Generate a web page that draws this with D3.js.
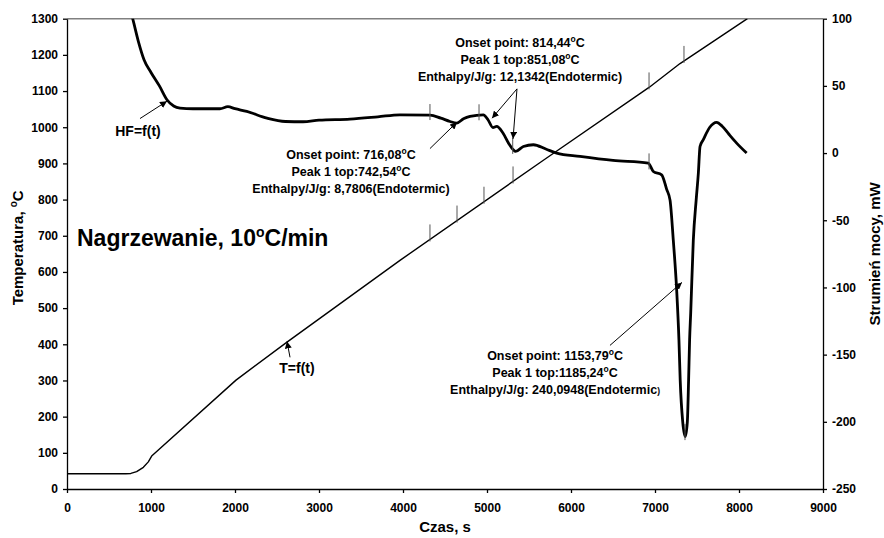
<!DOCTYPE html>
<html>
<head>
<meta charset="utf-8">
<script src="https://cdn.jsdelivr.net/npm/d3@7"></script>
<style>
	body { margin: 0; background: #fff; }
	svg { font-family: 'Liberation Sans', Arial, sans-serif; font-weight: bold; }
</style>
</head>
<body>
<svg id="canvas"></svg>
<script>
// temperature T=f(t)
const tempTime = [0, 700, 760, 829, 909, 968, 1008, 2012, 2619, 3964, 5667, 6929, 7298, 8100];
const tempValues = [42, 42, 43, 48, 60, 75, 91, 301, 406, 632, 908, 1110, 1176, 1300];

// heat flow HF=f(t), mW
const hfTime = [700, 782, 850, 917, 1000, 1100, 1190, 1270, 1345, 1500, 1821, 1915, 2000, 2140, 2381, 2600, 2810, 3000, 3369, 3700, 3964, 4321, 4450, 4560, 4639, 4720, 4798, 4956, 5012, 5071, 5115, 5190, 5260, 5313, 5340, 5433, 5552, 5700, 5829, 6107, 6500, 6920, 6980, 7079, 7139, 7179, 7218, 7258, 7285, 7300, 7330, 7360, 7385, 7400, 7412, 7425, 7456, 7490, 7516, 7536, 7575, 7650, 7734, 7800, 7880, 7972, 8091];
const hfValues = [118, 100, 83, 69.5, 60, 50, 39.7, 35, 33.5, 33, 33, 34.5, 33, 31, 26, 23.5, 23.3, 24.5, 25.3, 27, 28.5, 28.3, 26, 23.5, 22.3, 25.5, 27.3, 28.5, 24.8, 19, 19.8, 14.9, 7, 2.5, 1.2, 4.9, 6.2, 3, 0, -2.5, -5.5, -7.5, -13.7, -16.2, -27, -35, -65, -102, -139, -169, -200, -211, -200, -169, -139, -119, -65, -35, -15, 4.9, 10, 19, 22.8, 20, 14, 7.4, 0];

// small vertical marks left by the analysis software
const tempMarks = [4321, 4643, 4964, 5310, 6929, 7345];
const hfMarks = [4321, 4905, 5306, 6929, 7357];

const xTicks = [0, 1000, 2000, 3000, 4000, 5000, 6000, 7000, 8000, 9000];
const leftTicks = [0, 100, 200, 300, 400, 500, 600, 700, 800, 900, 1000, 1100, 1200, 1300];
const rightTicks = [-250, -200, -150, -100, -50, 0, 50, 100];

const xTitle = 'Czas, s';
const leftTitle = 'Temperatura, ';
const rightTitle = 'Strumień mocy, mW';

// text blocks: [t, T] anchor, lines
const peakNotes = [
	{ at: [3381, 911], lines: [['Onset point: 716,08', 'C'], ['Peak 1 top:742,54', 'C'], ['Enthalpy/J/g: 8,7806(Endotermic)']] },
	{ at: [5393, 1223], lines: [['Onset point: 814,44', 'C'], ['Peak 1 top:851,08', 'C'], ['Enthalpy/J/g: 12,1342(Endotermic)']] },
	{ at: [5810, 356], lines: [['Onset point: 1153,79', 'C'], ['Peak 1 top:1185,24', 'C'], ['Enthalpy/J/g: 240,0948(Endotermic', ')']] },
];
const curveLabels = [
	{ text: 'HF=f(t)', at: [845, 977] },
	{ text: 'T=f(t)', at: [2738, 320] },
];
// arrows: from [t, T] to [t, T]
const arrows = [
	[[869, 1024], [1190, 1072]],
	[[2655, 364], [2619, 408]],
	[[4321, 941], [4643, 1014]],
	[[5357, 1106], [5060, 1025]],
	[[5357, 1106], [5310, 968]],
	[[6464, 397], [7321, 571]],
];

const width = 884;
const height = 538;
const margin = { top: 18.7, right: 61, bottom: 49, left: 67 };

const canvas = d3.select('#canvas').attr('width', width).attr('height', height);

const x = d3.scaleLinear().domain([0, 9000]).range([margin.left, width - margin.right]);
const yLeft = d3.scaleLinear().domain([0, 1300]).range([height - margin.bottom, margin.top]);
const yRight = d3.scaleLinear().domain([-250, 100]).range([height - margin.bottom, margin.top]);

canvas.append('defs')
	.append('clipPath').attr('id', 'plot')
	.append('rect')
	.attr('x', margin.left).attr('y', margin.top)
	.attr('width', width - margin.left - margin.right)
	.attr('height', height - margin.top - margin.bottom);

canvas.select('defs')
	.append('marker')
	.attr('id', 'head')
	.attr('viewBox', '0 0 10 10')
	.attr('refX', 10).attr('refY', 5)
	.attr('markerWidth', 7).attr('markerHeight', 7)
	.attr('markerUnits', 'userSpaceOnUse')
	.attr('orient', 'auto')
	.append('path').attr('d', 'M0,0L10,5L0,10z').attr('fill', '#000');

// top frame line
canvas.append('line')
	.attr('x1', x(0)).attr('x2', x(9000))
	.attr('y1', yLeft(1300)).attr('y2', yLeft(1300))
	.attr('stroke', '#808080').attr('stroke-width', 1.5);

const styleAxis = (g) => {
	g.selectAll('path').attr('stroke', '#000').attr('stroke-width', 1.3);
	g.selectAll('line').attr('stroke', '#000').attr('stroke-width', 1.3);
	g.selectAll('text').attr('font-size', '12px').attr('font-weight', 'bold').attr('font-family', 'Liberation Sans, Arial, sans-serif').attr('fill', '#000');
};

// plain hyphen for negatives, like the original
const plain = (d) => String(d);

canvas.append('g')
	.attr('transform', `translate(0, ${height - margin.bottom})`)
	.call(d3.axisBottom(x).tickValues(xTicks).tickSize(4).tickSizeOuter(0).tickPadding(10).tickFormat(plain))
	.call(styleAxis);

canvas.append('g')
	.attr('transform', `translate(${margin.left}, 0)`)
	.call(d3.axisLeft(yLeft).tickValues(leftTicks).tickSize(4).tickSizeOuter(0).tickPadding(5).tickFormat(plain))
	.call(styleAxis);

canvas.append('g')
	.attr('transform', `translate(${width - margin.right}, 0)`)
	.call(d3.axisRight(yRight).tickValues(rightTicks).tickSize(4).tickSizeOuter(0).tickPadding(5).tickFormat(plain))
	.call(styleAxis);

// axis titles
canvas.append('text')
	.attr('x', x(4500)).attr('y', height - 6)
	.attr('text-anchor', 'middle').attr('font-size', '15px')
	.text(xTitle);

const leftT = canvas.append('text')
	.attr('transform', `translate(23, ${(margin.top + height - margin.bottom) / 2 - 6}) rotate(-90)`)
	.attr('text-anchor', 'middle').attr('font-size', '15px');
leftT.append('tspan').text(leftTitle);
leftT.append('tspan').attr('font-size', '10px').attr('dy', -6).text('o');
leftT.append('tspan').attr('dy', 6).text('C');

canvas.append('text')
	.attr('transform', `translate(880, ${(margin.top + height - margin.bottom) / 2}) rotate(-90)`)
	.attr('text-anchor', 'middle').attr('font-size', '15px')
	.text(rightTitle);

const plot = canvas.append('g').attr('clip-path', 'url(#plot)');

const tempLine = d3.line().x((d, i) => x(tempTime[i])).y((d) => yLeft(d));
plot.append('path')
	.datum(tempValues)
	.attr('d', tempLine)
	.attr('fill', 'none').attr('stroke', '#000').attr('stroke-width', 1.4)
	.attr('stroke-linejoin', 'round');

const hfLine = d3.line().x((d, i) => x(hfTime[i])).y((d) => yRight(d)).curve(d3.curveMonotoneX);
plot.append('path')
	.datum(hfValues)
	.attr('d', hfLine)
	.attr('fill', 'none').attr('stroke', '#000').attr('stroke-width', 2.8)
	.attr('stroke-linejoin', 'round');

const valueAt = (times, values, t) => {
	const i = Math.max(1, d3.bisectLeft(times, t));
	const k = (t - times[i - 1]) / (times[i] - times[i - 1]);
	return values[i - 1] + k * (values[i] - values[i - 1]);
};

plot.selectAll('.tmark')
	.data(tempMarks)
	.enter()
	.append('line')
	.attr('class', 'tmark')
	.attr('x1', (t) => x(t)).attr('x2', (t) => x(t))
	.attr('y1', (t) => yLeft(valueAt(tempTime, tempValues, t)) + 2)
	.attr('y2', (t) => yLeft(valueAt(tempTime, tempValues, t)) - 15)
	.attr('stroke', '#555').attr('stroke-width', 1);

plot.selectAll('.hmark')
	.data(hfMarks)
	.enter()
	.append('line')
	.attr('class', 'hmark')
	.attr('x1', (t) => x(t)).attr('x2', (t) => x(t))
	.attr('y1', (t) => yRight(valueAt(hfTime, hfValues, t)) + 5)
	.attr('y2', (t) => yRight(valueAt(hfTime, hfValues, t)) - 11)
	.attr('stroke', '#555').attr('stroke-width', 1);

// arrows
canvas.selectAll('.arrow')
	.data(arrows)
	.enter()
	.append('line')
	.attr('class', 'arrow')
	.attr('x1', (a) => x(a[0][0])).attr('y1', (a) => yLeft(a[0][1]))
	.attr('x2', (a) => x(a[1][0])).attr('y2', (a) => yLeft(a[1][1]))
	.attr('stroke', '#000').attr('stroke-width', 1)
	.attr('marker-end', 'url(#head)');

// curve labels
canvas.selectAll('.clabel')
	.data(curveLabels)
	.enter()
	.append('text')
	.attr('class', 'clabel')
	.attr('x', (d) => x(d.at[0])).attr('y', (d) => yLeft(d.at[1]))
	.attr('text-anchor', 'middle').attr('font-size', '14px')
	.text((d) => d.text);

// peak notes
peakNotes.forEach((note) => {
	note.lines.forEach((line, i) => {
		const txt = canvas.append('text')
			.attr('x', x(note.at[0]))
			.attr('y', yLeft(note.at[1]) + i * 17)
			.attr('text-anchor', 'middle').attr('font-size', '12.5px');
		txt.append('tspan').text(line[0]);
		if (line[1] === 'C') {
			txt.append('tspan').attr('font-size', '8.5px').attr('dy', -5).text('o');
			txt.append('tspan').attr('dy', 5).text('C');
		} else if (line[1]) {
			txt.append('tspan').attr('font-size', '8.5px').text(line[1]);
		}
	});
});

// title inside plot
const title = canvas.append('text')
	.attr('x', x(119)).attr('y', yLeft(671))
	.attr('font-size', '23px');
title.append('tspan').text('Nagrzewanie, 10');
title.append('tspan').attr('font-size', '14px').attr('dy', -9).text('o');
title.append('tspan').attr('dy', 9).text('C/min');
</script>
</body>
</html>
